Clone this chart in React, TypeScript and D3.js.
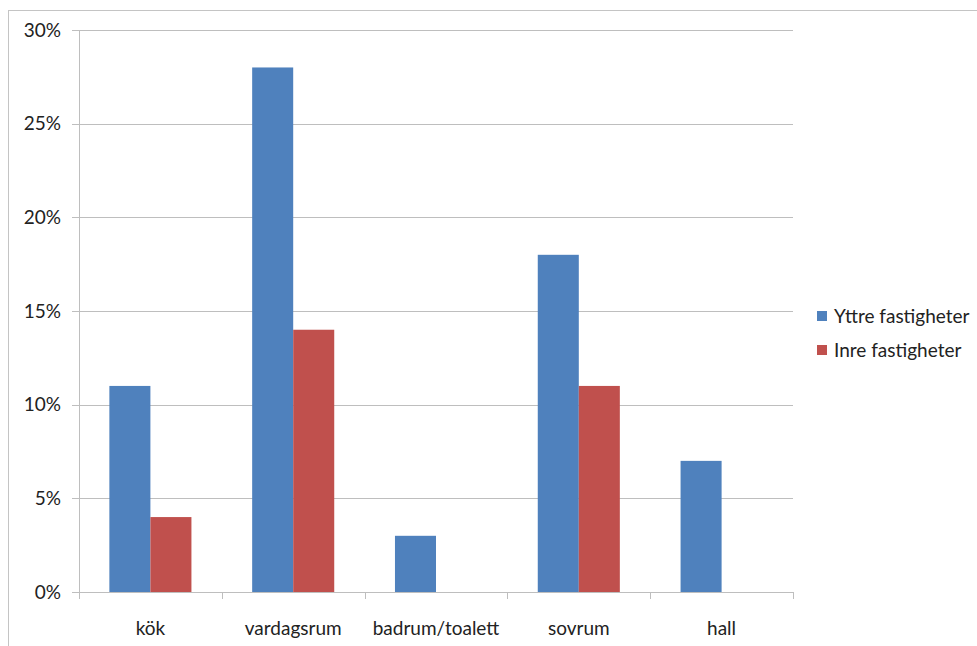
import React from "react";
import * as d3 from "d3";

const categories = ["kök", "vardagsrum", "badrum/toalett", "sovrum", "hall"];
const seriesNames = ["Yttre fastigheter", "Inre fastigheter"];
const yttre = [0.11, 0.28, 0.03, 0.18, 0.07];
const inre = [0.04, 0.14, 0, 0.11, 0];
const yTicks = [0, 0.05, 0.1, 0.15, 0.2, 0.25, 0.3];
const colors = ["#4F81BD", "#C0504D"];

export default function App() {
  const W = 977, H = 646;
  const left = 79, right = 793, top = 30, bottom = 592;
  const x = d3.scaleBand<string>().domain(categories).range([left, right]).paddingInner(0).paddingOuter(0);
  const x1 = d3.scaleBand<string>().domain(seriesNames).range([0, x.bandwidth()]).paddingInner(0).paddingOuter(0.74);
  const y = d3.scaleLinear().domain([0, 0.3]).range([bottom, top]);
  const series = [yttre, inre];
  const font = "Lato, 'Open Sans', sans-serif";
  const fmt = d3.format(".0%");
  const edges = [...categories.map((c) => x(c)!), right];
  return (
    <svg width={W} height={H} style={{ position: "absolute", left: 0, top: 0, background: "#fff" }} fontFamily={font}>
      <rect x={8.5} y={10.5} width={W + 10} height={H + 10} fill="none" stroke="#888" strokeWidth={1} strokeDasharray="1 1" />
      {yTicks.map((t) => (
        <g key={t}>
          <line x1={left - 7} x2={right} y1={Math.round(y(t)) + 0.5} y2={Math.round(y(t)) + 0.5} stroke="#BEBEBE" strokeWidth={1} />
          <text x={61} y={y(t)} dy="0.35em" textAnchor="end" fontSize={19} fill="#222">{fmt(t)}</text>
        </g>
      ))}
      <line x1={left + 0.5} x2={left + 0.5} y1={top} y2={bottom} stroke="#BEBEBE" />
      {edges.map((e, i) => (
        <line key={i} x1={Math.round(e) + 0.5} x2={Math.round(e) + 0.5} y1={bottom} y2={bottom + 7} stroke="#BEBEBE" />
      ))}
      {series.map((vals, si) =>
        vals.map((v, ci) => (
          v > 0 ? (
            <rect key={`${si}-${ci}`} x={x(categories[ci])! + x1(seriesNames[si])!} y={y(v)} width={x1.bandwidth()} height={bottom - y(v)} fill={colors[si]} />
          ) : null
        ))
      )}
      {categories.map((c) => (
        <text key={c} x={x(c)! + x.bandwidth() / 2} y={628} dy="0.35em" textAnchor="middle" fontSize={19} fill="#222">{c}</text>
      ))}
      {seriesNames.map((s, i) => (
        <g key={s} transform={`translate(817, ${316 + i * 34})`}>
          <rect x={0} y={-5} width={10} height={10} fill={colors[i]} />
          <text x={17} y={0} dy="0.35em" fontSize={19} fill="#222">{s}</text>
        </g>
      ))}
    </svg>
  );
}
